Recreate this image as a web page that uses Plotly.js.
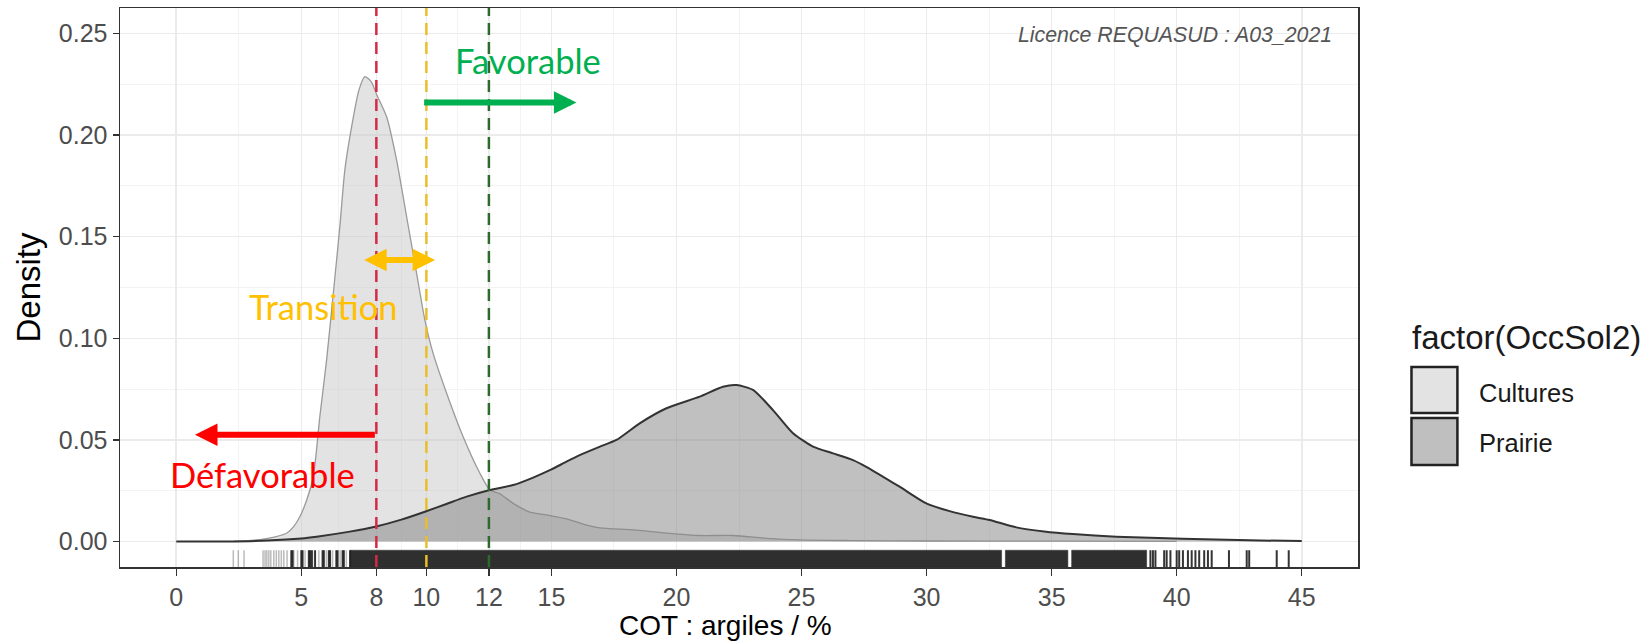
<!DOCTYPE html>
<html>
<head>
<meta charset="utf-8">
<script src="https://cdn.plot.ly/plotly-3.0.1.min.js"></script>
<style>html,body{margin:0;padding:0;background:#fff;}#chart{width:1651px;height:644px;}</style>
</head>
<body>
<div id="chart"></div>
<script>
// ---------- data ----------
const culturesX = [2.3, 3.0, 3.6, 4.0, 4.41, 4.7, 4.94, 5.2, 5.48, 5.74, 6.01, 6.28, 6.54, 6.74, 7.01, 7.3, 7.54, 7.8, 8.01, 8.41, 8.81, 9.21, 9.61, 9.94, 10.27, 10.81, 11.47, 12.14, 12.54, 12.94, 13.47, 14.14, 14.94, 15.6, 16.3, 16.94, 18.27, 19.6, 20.93, 22.26, 23.6, 24.93, 27, 30, 35, 40];
const culturesY = [0.0002, 0.0006, 0.0015, 0.0025, 0.0041, 0.0075, 0.0122, 0.0200, 0.0319, 0.0615, 0.0893, 0.1222, 0.1550, 0.1828, 0.2040, 0.2220, 0.2287, 0.2262, 0.2200, 0.2090, 0.1877, 0.1598, 0.1320, 0.1090, 0.0926, 0.0730, 0.0516, 0.0336, 0.0254, 0.0235, 0.0188, 0.0145, 0.0128, 0.0112, 0.0085, 0.0068, 0.0058, 0.0042, 0.0030, 0.0030, 0.0016, 0.0008, 0.0005, 0.0003, 0.0002, 0.0001];

const prairieX = [0, 2, 3.61, 5.0, 5.61, 6.94, 7.95, 9.0, 9.94, 10.8, 11.61, 12.54, 13.47, 14.27, 15.0, 15.6, 16.13, 16.94, 17.6, 18.53, 19.6, 20.93, 21.86, 22.4, 23.06, 23.86, 24.66, 25.46, 26.26, 27.06, 27.59, 28.92, 29.99, 30.92, 31.86, 32.52, 33.59, 34.7, 35.85, 37.59, 40.25, 42.91, 45.0];
const prairieY = [0, 0.0001, 0.0005, 0.0015, 0.0024, 0.0049, 0.0073, 0.0108, 0.0147, 0.0185, 0.0221, 0.0254, 0.0278, 0.0315, 0.0355, 0.0393, 0.0425, 0.0467, 0.0500, 0.0582, 0.0656, 0.0713, 0.0762, 0.0770, 0.0746, 0.0647, 0.0533, 0.0467, 0.0434, 0.0401, 0.0368, 0.0270, 0.0188, 0.0150, 0.0122, 0.0106, 0.0070, 0.0050, 0.0037, 0.0024, 0.0014, 0.0006, 0.0003];

// rug: isolated observations (light = single semi-transparent ticks, dark = overlapping/dark ticks)
const rugLight = [2.28, 2.48, 2.71, 3.47, 3.55, 3.62, 3.7, 3.78, 3.9, 4.0, 4.1, 4.2, 4.3, 4.43, 4.7, 4.85, 5.15, 5.45, 5.7, 6.0, 6.25, 6.55, 6.8];
const rugDark = [4.6, 4.65, 5.0, 5.05, 5.3, 5.35, 5.42, 5.55, 5.85, 5.9, 6.1, 6.15, 6.4, 6.45, 6.65, 6.7, 6.95, 38.95, 39.05, 39.15, 39.5, 39.6, 39.75, 40.0, 40.1, 40.25, 40.45, 40.6, 40.75, 40.9, 41.1, 41.25, 41.4, 42.09, 42.8, 42.9, 44.0, 44.48];
// rug: ranges so dense that ticks merge into a solid band
const rugBandStart = [6.95, 33.15, 35.8];
const rugBandEnd = [33.0, 35.65, 38.8];

const thresholds = [8, 10, 12.5];
const thresholdColors = ['#D42A45', '#E8BF2A', '#2D6A2D'];

const xTickVals = [0, 5, 8, 10, 12.5, 15, 20, 25, 30, 35, 40, 45];
const xTickText = ['0', '5', '8', '10', '12', '15', '20', '25', '30', '35', '40', '45'];
const xMinorVals = [2.5, 6.5, 9, 11.25, 13.75, 17.5, 22.5, 27.5, 32.5, 37.5, 42.5];
const yTickVals = [0, 0.05, 0.10, 0.15, 0.20, 0.25];
const yTickText = ['0.00', '0.05', '0.10', '0.15', '0.20', '0.25'];
const yMinorVals = [0.025, 0.075, 0.125, 0.175, 0.225];

const seriesNames = ['Cultures', 'Prairie'];
const legendTitle = 'factor(OccSol2)';
const xTitle = 'COT : argiles / %';
const yTitle = 'Density';

// ---------- styling ----------
const xRange = [-2.25, 47.25];
const yRange = [-0.0125, 0.2625];
const rugFrac = 0.03;
const rugBottom = yRange[0];
const rugTop = yRange[0] + rugFrac * (yRange[1] - yRange[0]);
const FONT = 'Liberation Sans, Arial, sans-serif';
const CAL = 'Lato, Carlito, Calibri, sans-serif';

const traces = [];
traces.push({
  x: culturesX, y: culturesY, type: 'scatter', mode: 'lines', fill: 'tozeroy',
  fillcolor: 'rgba(200,200,200,0.5)', line: {color: '#9a9a9a', width: 1.3, shape: 'spline', smoothing: 0.6},
  hoverinfo: 'skip', showlegend: false
});
traces.push({
  x: prairieX, y: prairieY, type: 'scatter', mode: 'lines', fill: 'tozeroy',
  fillcolor: 'rgba(130,130,130,0.5)', line: {color: '#333333', width: 2, shape: 'spline', smoothing: 0.6},
  hoverinfo: 'skip', showlegend: false
});

function rugTrace(vals, color, w) {
  const xs = [], ys = [];
  vals.forEach(v => { xs.push(v, v, null); ys.push(rugBottom, rugTop, null); });
  return {x: xs, y: ys, type: 'scatter', mode: 'lines', line: {color: color, width: w}, hoverinfo: 'skip', showlegend: false};
}
{
  const xs = [], ys = [];
  rugBandStart.forEach((s, i) => {
    const e = rugBandEnd[i];
    xs.push(s, e, e, s, s, null); ys.push(rugBottom, rugBottom, rugTop, rugTop, rugBottom, null);
  });
  traces.push({x: xs, y: ys, type: 'scatter', mode: 'lines', fill: 'toself', fillcolor: '#2f2f2f',
    line: {color: '#2f2f2f', width: 0.5}, hoverinfo: 'skip', showlegend: false});
}
traces.push(rugTrace(rugLight, 'rgba(60,60,60,0.35)', 1.5));
traces.push(rugTrace(rugDark, 'rgba(30,30,30,0.9)', 2));

thresholds.forEach((t, i) => {
  traces.push({x: [t, t], y: [yRange[0], yRange[1]], type: 'scatter', mode: 'lines',
    line: {color: thresholdColors[i], width: 2.5, dash: '12px,7px'}, hoverinfo: 'skip', showlegend: false});
});

const annotations = [
  {x: 16.0, y: 0.216, ax: 9.85, ay: 0.216, xref: 'x', yref: 'y', axref: 'x', ayref: 'y', text: '',
   showarrow: true, arrowhead: 2, arrowsize: 0.75, arrowwidth: 6, arrowcolor: '#00B050', standoff: 0},
  {x: 10.35, y: 0.1385, ax: 7.45, ay: 0.1385, xref: 'x', yref: 'y', axref: 'x', ayref: 'y', text: '',
   showarrow: true, arrowhead: 2, startarrowhead: 2, arrowside: 'end+start', arrowsize: 0.75, startarrowsize: 0.75,
   arrowwidth: 6, arrowcolor: '#FFC000', standoff: 0, startstandoff: 0},
  {x: 0.75, y: 0.0525, ax: 8.0, ay: 0.0525, xref: 'x', yref: 'y', axref: 'x', ayref: 'y', text: '',
   showarrow: true, arrowhead: 2, arrowsize: 0.75, arrowwidth: 6, arrowcolor: '#FF0000', standoff: 0},
  {x: 14.05, y: 0.2365, xref: 'x', yref: 'y', text: 'Favorable', showarrow: false,
   font: {family: CAL, size: 34.5, color: '#00B050'}},
  {x: 5.9, y: 0.1155, xref: 'x', yref: 'y', text: 'Transition', showarrow: false,
   font: {family: CAL, size: 34.5, color: '#FFC000'}},
  {x: 3.43, y: 0.0332, xref: 'x', yref: 'y', text: 'Défavorable', showarrow: false,
   font: {family: CAL, size: 34.5, color: '#FF0000'}},
  {x: 0.981, y: 0.952, xref: 'paper', yref: 'paper', xanchor: 'right', yanchor: 'middle',
   text: 'Licence REQUASUD : A03_2021', showarrow: false,
   font: {family: FONT, size: 21.3, color: '#555555', style: 'italic'}},
  {x: 0.4888, y: -0.1038, xref: 'paper', yref: 'paper', xanchor: 'center', yanchor: 'middle',
   text: xTitle, showarrow: false, font: {family: FONT, size: 28, color: '#000000'}},
  {x: 1.0416, y: 0.4114, xref: 'paper', yref: 'paper', xanchor: 'left', yanchor: 'middle',
   text: legendTitle, showarrow: false, font: {family: FONT, size: 33, color: '#1a1a1a'}},
  {x: 1.0965, y: 0.311, xref: 'paper', yref: 'paper', xanchor: 'left', yanchor: 'middle',
   text: seriesNames[0], showarrow: false, font: {family: FONT, size: 25.5, color: '#1a1a1a'}},
  {x: 1.0965, y: 0.2218, xref: 'paper', yref: 'paper', xanchor: 'left', yanchor: 'middle',
   text: seriesNames[1], showarrow: false, font: {family: FONT, size: 25.5, color: '#1a1a1a'}}
];

const shapes = [
  {type: 'rect', xref: 'paper', yref: 'paper', x0: 1.0432, x1: 1.0803, y0: 0.2755, y1: 0.3578,
   fillcolor: '#E3E3E3', line: {color: '#222', width: 2.5}},
  {type: 'rect', xref: 'paper', yref: 'paper', x0: 1.0432, x1: 1.0803, y0: 0.1825, y1: 0.2665,
   fillcolor: '#BFBFBF', line: {color: '#222', width: 2.5}}
];

const layout = {
  width: 1651, height: 644,
  margin: {l: 120, r: 293, t: 8, b: 77, pad: 0},
  paper_bgcolor: '#ffffff', plot_bgcolor: '#ffffff',
  showlegend: false,
  font: {family: FONT, color: '#4D4D4D'},
  xaxis: {
    range: xRange, tickmode: 'array', tickvals: xTickVals, ticktext: xTickText,
    ticks: 'outside', ticklen: 7, tickwidth: 1.5, tickcolor: '#333333',
    tickfont: {family: FONT, size: 25, color: '#4D4D4D'},
    showgrid: true, gridcolor: '#EBEBEB', gridwidth: 1.6, zeroline: false,
    minor: {tickmode: 'array', tickvals: xMinorVals, showgrid: true, gridcolor: '#F3F3F3', gridwidth: 1, ticks: ''},
    showline: true, mirror: true, linecolor: '#333333', linewidth: 1.5,
    automargin: false
  },
  yaxis: {
    range: yRange, tickmode: 'array', tickvals: yTickVals, ticktext: yTickText,
    ticks: 'outside', ticklen: 6, tickwidth: 1.5, tickcolor: '#333333',
    tickfont: {family: FONT, size: 25, color: '#4D4D4D'},
    showgrid: true, gridcolor: '#EBEBEB', gridwidth: 1.6, zeroline: false,
    minor: {tickmode: 'array', tickvals: yMinorVals, showgrid: true, gridcolor: '#F3F3F3', gridwidth: 1, ticks: ''},
    showline: true, mirror: true, linecolor: '#333333', linewidth: 1.5,
    title: {text: yTitle, font: {family: FONT, size: 33, color: '#000000'}, standoff: 8},
    automargin: false
  },
  annotations: annotations,
  shapes: shapes
};

Plotly.newPlot('chart', traces, layout, {displayModeBar: false, staticPlot: true});
</script>
</body>
</html>
